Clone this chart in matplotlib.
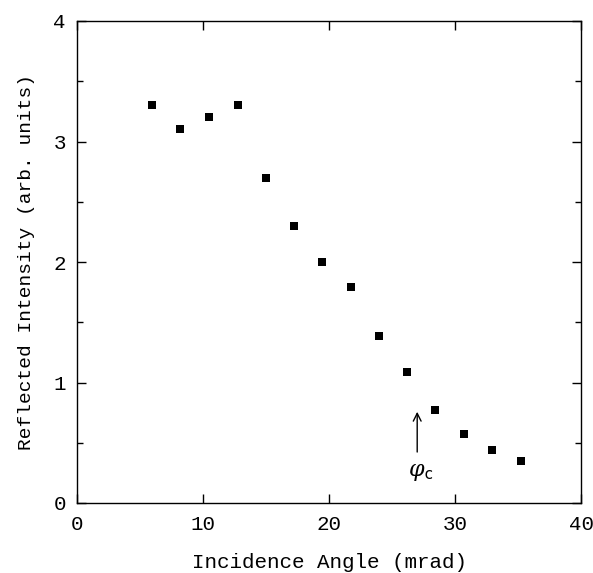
import matplotlib
matplotlib.use("Agg")
import matplotlib.pyplot as plt
from matplotlib.ticker import MultipleLocator

# incidence angle (mrad) and reflected intensity (arb. units)
angle = [5.96, 8.19, 10.48, 12.74, 14.97, 17.2, 19.46, 21.72, 23.95, 26.2, 28.43, 30.7, 32.9, 35.2]
intensity = [3.30, 3.10, 3.20, 3.30, 2.70, 2.30, 2.00, 1.79, 1.39, 1.09, 0.77, 0.57, 0.44, 0.35]
phi_c = 27.0  # critical angle arrow position

plt.rcParams['font.family'] = ['Liberation Mono']
plt.rcParams['mathtext.fontset'] = 'dejavuserif'
fig = plt.figure(figsize=(5.93, 5.73), dpi=100)
ax = fig.add_axes([77/593, 1-503/573, 504/593, 482/573])

ax.plot(angle, intensity, 's', color='black', markersize=6, markeredgewidth=0)
ax.annotate('', xy=(phi_c, 0.78), xytext=(phi_c, 0.40),
            arrowprops=dict(arrowstyle='->', color='black', lw=1, mutation_scale=14))
ax.text(phi_c + 0.3, 0.25, r'$\varphi_{\mathtt{c}}$', fontsize=16, ha='center', va='center')

ax.set_xlim(0, 40); ax.set_ylim(0, 4)
ax.xaxis.set_major_locator(MultipleLocator(10))
ax.yaxis.set_major_locator(MultipleLocator(1))
ax.yaxis.set_minor_locator(MultipleLocator(0.5))
ax.tick_params(which='both', direction='in', top=True, right=True, labelsize=15, width=1)
ax.tick_params(which='major', length=6.5)
ax.tick_params(which='minor', length=4)
ax.tick_params(axis='x', pad=9)
ax.tick_params(axis='y', pad=8)
for s in ax.spines.values(): s.set_linewidth(1)
ax.set_xlabel("Incidence Angle (mrad)", fontsize=15, labelpad=13)
ax.set_ylabel("Reflected Intensity (arb. units)", fontsize=14, labelpad=13)
fig.savefig("out.png", dpi=100)
